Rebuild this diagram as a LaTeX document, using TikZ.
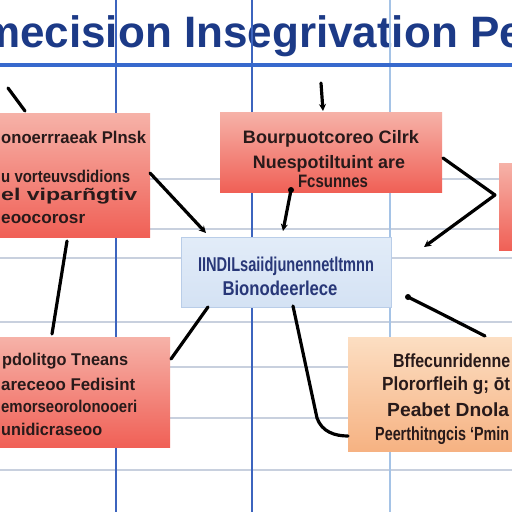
\documentclass[tikz,border=0pt]{standalone}
\usepackage{fontspec}
\setmainfont{Liberation Sans}
\usepackage{graphicx}
\usetikzlibrary{arrows.meta}
\newcommand\fw[2]{\resizebox{#1}{\height}{#2}}
\definecolor{titlec}{RGB}{28,58,135}
\definecolor{bluel}{RGB}{55,105,205}
\definecolor{vgridc}{RGB}{60,100,190}
\definecolor{vgridl}{RGB}{165,195,230}
\definecolor{hgridc}{RGB}{200,208,222}
\definecolor{redtop}{RGB}{246,178,168}
\definecolor{redbot}{RGB}{240,96,86}
\definecolor{ortop}{RGB}{252,222,194}
\definecolor{orbot}{RGB}{246,178,130}
\definecolor{cbtop}{RGB}{226,236,248}
\definecolor{cbbot}{RGB}{212,226,244}
\definecolor{cbdraw}{RGB}{185,205,232}
\definecolor{txtc}{RGB}{40,26,26}
\definecolor{ctxtc}{RGB}{40,55,120}
\begin{document}
\begin{tikzpicture}[x=1pt,y=-1pt,
  hgrid/.style={draw=hgridc, line width=1.2pt},
  vgrid/.style={draw=vgridc, line width=1.4pt},
  redbox/.style={top color=redtop, bottom color=redbot, draw=none, inner sep=0pt, anchor=north west},
  orbox/.style={top color=ortop, bottom color=orbot, draw=none, inner sep=0pt, anchor=north west},
  cbox/.style={top color=cbtop, bottom color=cbbot, draw=cbdraw, line width=1pt, inner sep=0pt, anchor=north west},
  conn/.style={line width=3.2pt, line cap=round, draw=black},
  tip/.style={-{Stealth[length=7pt,width=7pt]}},
  dotc/.style={circle, fill=black, inner sep=0pt, minimum size=6pt},
  rtxt/.style={inner sep=0pt, text=txtc, font=\fontsize{17}{17}\selectfont\bfseries},
  btxt/.style={inner sep=0pt, text=ctxtc, font=\fontsize{20}{20}\selectfont\bfseries},
  otxt/.style={inner sep=0pt, text=txtc, font=\fontsize{19}{19}\selectfont\bfseries}]
\useasboundingbox (0,0) rectangle (512,512);
\fill[white] (0,0) rectangle (512,512);
% horizontal grid
\foreach \yy in {179,229,258,322,367,418,470} {\draw[hgrid] (0,\yy) -- (512,\yy);}
% title
\node[anchor=base west, inner sep=0pt, text=titlec, font=\fontsize{44}{44}\selectfont\bfseries] (title) at (-19,47) {mecision Insegrivation Pep};
% vertical grid
\draw[vgrid] (116,0) -- (116,512);
\draw[vgrid] (252,0) -- (252,512);
\draw[vgrid, draw=vgridl] (390,0) -- (390,512);
% blue rule
\draw[line width=4pt, draw=bluel] (0,65) -- (512,65);
% boxes
\node[redbox, minimum width=160pt, minimum height=124pt] (b1) at (-10,113) {};
\node[redbox, minimum width=222pt, minimum height=80pt] (b2) at (220,112) {};
\node[redbox, minimum width=30pt, minimum height=87pt] (b3) at (499,163) {};
\node[cbox, minimum width=210pt, minimum height=70pt] (b4) at (181,237) {};
\node[redbox, minimum width=180pt, minimum height=110pt] (b5) at (-10,337) {};
\node[orbox, minimum width=180pt, minimum height=114pt] (b6) at (348,337) {};
% texts box1
\node[rtxt, anchor=base west] (t1a) at (1,143) {\fw{145pt}{onoerrraeak Plnsk}};
\node[rtxt, anchor=base west] (t1b) at (1,182) {\fw{129pt}{u vorteuvsdidions}};
\node[rtxt, anchor=base west] (t1c) at (1,200) {\fw{136pt}{el viparñgtiv}};
\node[rtxt, anchor=base west] (t1d) at (1,223) {\fw{84pt}{eoocorosr}};
% texts box2
\node[rtxt, anchor=base, font=\fontsize{18}{18}\selectfont\bfseries] (t2a) at (331,143) {\fw{176pt}{Bourpuotcoreo Cilrk}};
\node[rtxt, anchor=base, font=\fontsize{18}{18}\selectfont\bfseries] (t2b) at (329,168) {\fw{152pt}{Nuespotiltuint are}};
\node[rtxt, anchor=base, font=\fontsize{18}{18}\selectfont\bfseries] (t2c) at (333,187) {\fw{70pt}{Fcsunnes}};
% texts box4
\node[btxt, anchor=base] (t4a) at (286,271) {\fw{176pt}{IINDILsaiidjunennetltmnn}};
\node[btxt, anchor=base] (t4b) at (280,295) {\fw{115pt}{Bionodeerlece}};
% texts box5
\node[rtxt, anchor=base west] (t5a) at (2,365) {\fw{126pt}{pdolitgo Tneans}};
\node[rtxt, anchor=base west] (t5b) at (1,390) {\fw{134pt}{areceoo Fedisint}};
\node[rtxt, anchor=base west] (t5c) at (1,412) {\fw{136pt}{emorseorolonooeri}};
\node[rtxt, anchor=base west] (t5d) at (1,435) {\fw{101pt}{unidicraseoo}};
% texts box6
\node[otxt, anchor=base west] (t6a) at (393,367) {\fw{117pt}{Bffecunridenne}};
\node[otxt, anchor=base west] (t6b) at (382,390) {\fw{128pt}{Plororfleih g; ōt}};
\node[otxt, anchor=base west] (t6c) at (387,416) {\fw{122pt}{Peabet Dnola}};
\node[otxt, anchor=base west] (t6d) at (375,440) {\fw{134pt}{Peerthitngcis ‘Pmin}};
% connector end points
\coordinate (a1) at (8,88);   \coordinate (a2) at (25,111);
\coordinate (c1) at (321,83); \coordinate (c2) at (323,111);
\coordinate (d1) at (150,173); \coordinate (d2) at (206,233);
\coordinate (e1) at (291,190); \coordinate (e2) at (283,231);
\coordinate (f1) at (443,158); \coordinate (f2) at (495,195); \coordinate (f3) at (424,247);
\coordinate (g1) at (67,241); \coordinate (g2) at (52,334);
\coordinate (h1) at (171,359); \coordinate (h2) at (208,307);
\coordinate (k1) at (293,306); \coordinate (k2) at (317,418); \coordinate (k3) at (348,436);
\coordinate (m1) at (408,297); \coordinate (m2) at (485,336);
% connectors
\draw[conn] (a1) -- (a2);
\draw[conn, tip] (c1) -- (c2);
\draw[conn, tip] (d1) -- (d2);
\draw[conn, tip] (e1) -- (e2);
\node[dotc] (e1dot) at (e1) {};
\draw[conn] (f1) -- (f2);
\draw[conn, tip] (f2) -- (f3);
\draw[conn] (g1) -- (g2);
\draw[conn] (h1) -- (h2);
\draw[conn] (k1) -- (k2) .. controls (322,432) and (335,436) .. (k3);
\draw[conn] (m1) .. controls (440,313) .. (m2);
\node[dotc] (m1dot) at (m1) {};
\end{tikzpicture}
\end{document}
